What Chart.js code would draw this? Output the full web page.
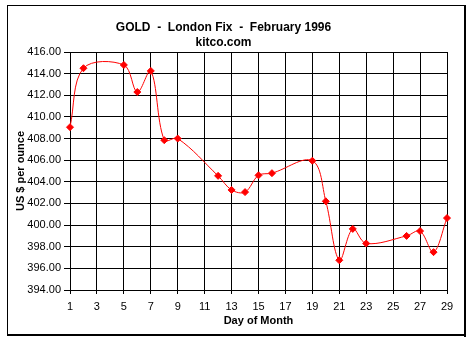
<!DOCTYPE html>
<html>
<head>
<meta charset="utf-8">
<script src="https://cdn.jsdelivr.net/npm/chart.js@4"></script>
<style>
  body { margin: 0; background: #fff; }
</style>
</head>
<body>
<canvas id="chart" width="473" height="343"></canvas>
<script>
// London gold fix, February 1996 (trading days only)
const days = [1, 2, 5, 6, 7, 8, 9, 12, 13, 14, 15, 16, 19, 20, 21, 22, 23, 26, 27, 28, 29]
const prices = [409.05, 414.5, 414.8, 412.3, 414.25, 407.85, 408.0, 404.55, 403.25, 403.05, 404.6,
    404.8, 405.95, 402.2, 396.75, 399.65, 398.3, 399.0, 399.45, 397.5, 400.65]

const titleLines = ['GOLD  -  London Fix  -  February 1996', 'kitco.com']
const xTitle = 'Day of Month'
const yTitle = 'US $ per ounce'

const points = days.map((d, i) => ({ x: d, y: prices[i] }))

// chart frame with the heavier right/bottom edge
const frame = {
    id: 'frame',
    afterDraw(chart) {
        const c = chart.ctx
        c.save()
        c.fillStyle = '#000'
        c.fillRect(7, 5, 458, 1)
        c.fillRect(7, 5, 1, 331)
        c.fillRect(464, 5, 2, 332)
        c.fillRect(7, 334, 459, 2)
        c.restore()
    }
}

const font = { family: 'Liberation Sans, Arial, sans-serif', size: 11 }

const ctx = document.getElementById('chart')

var myChart = new Chart(ctx, {
    type: 'line',
    data: {
        datasets: [{
            data: points,
            borderColor: '#ff0000',
            backgroundColor: '#ff0000',
            borderWidth: 1,
            tension: 0.35,
            pointStyle: 'rectRot',
            pointRadius: 3.5,
            pointBorderWidth: 1,
            clip: false
        }]
    },
    options: {
        responsive: false,
        animation: false,
        layout: {
            padding: { left: 0, right: 26, top: 0, bottom: 0 }
        },
        plugins: {
            legend: { display: false },
            tooltip: { enabled: false },
            title: {
                display: true,
                text: titleLines,
                color: '#000',
                font: { family: font.family, size: 12, weight: 'bold', lineHeight: 1.25 },
                padding: { top: 20, bottom: 2 }
            }
        },
        scales: {
            x: {
                type: 'linear',
                min: 1,
                max: 29,
                afterFit: (scale) => { scale.height = 53 },
                ticks: { stepSize: 2, color: '#000', font: font, padding: 6, maxRotation: 0 },
                grid: { color: '#000', tickLength: 4 },
                border: { color: '#000' },
                title: {
                    display: true,
                    text: xTitle,
                    color: '#000',
                    font: { family: font.family, size: 11, weight: 'bold' },
                    padding: { top: 0, bottom: 15 }
                }
            },
            y: {
                min: 394,
                max: 416,
                afterFit: (scale) => { scale.width = 70 },
                ticks: {
                    stepSize: 2,
                    color: '#000',
                    font: font,
                    padding: 3,
                    callback: (v) => v.toFixed(2)
                },
                grid: { color: '#000', tickLength: 6 },
                border: { color: '#000' },
                title: {
                    display: true,
                    text: yTitle,
                    color: '#000',
                    font: { family: font.family, size: 11, weight: 'bold' },
                    padding: { top: 14, bottom: 0 }
                }
            }
        }
    },
    plugins: [frame]
})
</script>
</body>
</html>
